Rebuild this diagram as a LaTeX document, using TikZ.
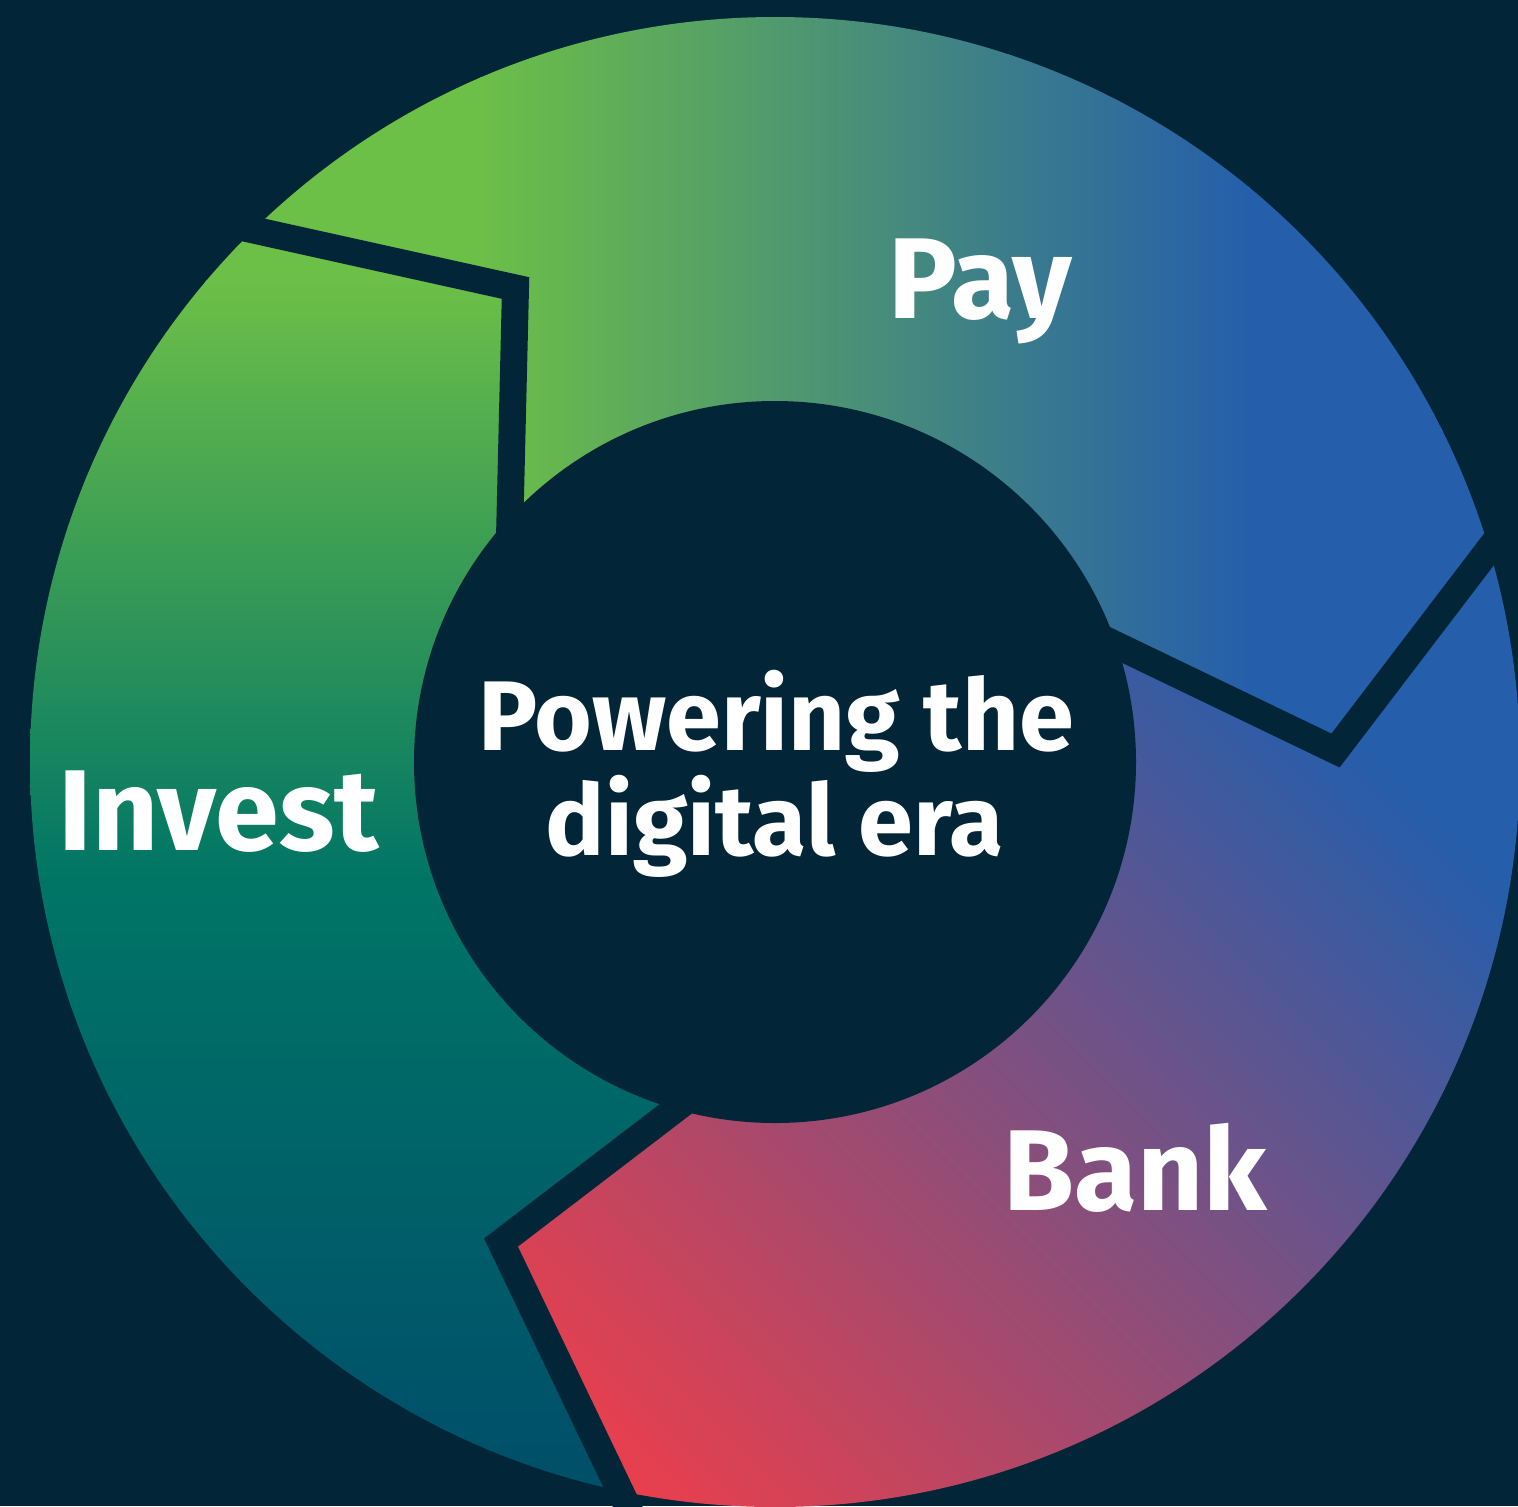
\documentclass[tikz,border=0pt]{standalone}
\usepackage{fontspec}
\setmainfont{Fira Sans}
\definecolor{bg}{HTML}{022637}
\definecolor{grn}{HTML}{6CBF47}
\definecolor{blu}{HTML}{255EAB}
\definecolor{tealm}{HTML}{007566}
\definecolor{teald}{HTML}{00506A}
\definecolor{redc}{HTML}{EF3E4A}
\definecolor{purp}{HTML}{8A5888}
\tikzset{
  gapline/.style={draw=bg, line width=13.5pt, line join=miter, miter limit=10},
  lbl/.style={text=white, inner sep=0pt, font=\fontsize{57.5}{60}\selectfont\bfseries},
  ctrtext/.style={text=white, inner sep=0pt, font=\fontsize{49.5}{52.5}\selectfont\bfseries},
}
\begin{document}
\begin{tikzpicture}[x=0.5pt,y=-0.5pt]
\useasboundingbox (0,0) rectangle (1518,1506);
\fill[bg] (0,0) rectangle (1518,1506);
\coordinate (C) at (775,762);
% gap 1 (upper left)
\coordinate (g1oe) at (100,196);
\coordinate (g1k) at (515.5,288);
\coordinate (g1ie) at (508,600);
% gap 2 (right)
\coordinate (g2ie) at (1060,618);
\coordinate (g2k) at (1335.5,750.5);
\coordinate (g2oe) at (1580,430);
% gap 3 (lower left)
\coordinate (g3ie) at (720,1075);
\coordinate (g3k) at (501,1242.5);
\coordinate (g3oe) at (680,1616);
% Pay segment
\begin{scope}
  \clip (C) circle [radius=372.5pt];
  \clip (C) -- (g1ie) -- (g1k) -- (g1oe) -- (-50,-50) -- (1700,-50) -- (1700,300) -- (g2oe) -- (g2k) -- (g2ie) -- cycle;
  \fill[grn] (-10,-10) rectangle (482,1000);
  \shade[left color=grn, right color=blu] (480,-10) rectangle (1250,1000);
  \fill[blu] (1248,-10) rectangle (1600,1000);
\end{scope}
% Invest segment
\begin{scope}
  \clip (C) circle [radius=372.5pt];
  \clip (C) -- (g3ie) -- (g3k) -- (g3oe) -- (680,1700) -- (-100,1700) -- (-100,-50) -- (g1oe) -- (g1k) -- (g1ie) -- cycle;
  \fill[grn] (-10,-10) rectangle (800,282);
  \shade[top color=grn, bottom color=tealm] (-10,280) rectangle (800,880);
  \shade[top color=tealm, bottom color=teald] (-10,880) rectangle (800,1450);
  \fill[teald] (-10,1448) rectangle (800,1600);
\end{scope}
% Bank segment
\begin{scope}
  \clip (C) circle [radius=372.5pt];
  \clip (C) -- (g2ie) -- (g2k) -- (g2oe) -- (1700,300) -- (1700,1700) -- (680,1700) -- (g3oe) -- (g3k) -- (g3ie) -- cycle;
  \begin{scope}[transform canvas={rotate around={45:(1000,1140)}}]
    \fill[redc] (-600,-700) rectangle (465,2800);
    \shade[left color=redc, middle color=purp, right color=blu] (463,-700) rectangle (1537,2800);
    \fill[blu] (1535,-700) rectangle (2800,2800);
  \end{scope}
\end{scope}
% gaps
\draw[gapline] (g1oe) -- (g1k) -- (g1ie);
\draw[gapline] (g2ie) -- (g2k) -- (g2oe);
\draw[gapline] (g3ie) -- (g3k) -- (g3oe);
% inner disk
\fill[bg] (C) circle [radius=180.5pt];
% texts
\node[lbl, anchor=base west] (invest) at (58,850) {Invest};
\node[lbl, anchor=base west] (pay) at (888,318) {Pay};
\node[lbl, anchor=base west] (bank) at (1003,1210) {Bank};
\node[ctrtext, anchor=base] (line1) at (776,750) {Powering the};
\node[ctrtext, anchor=base] (line2) at (775,855) {digital era};
\end{tikzpicture}
\end{document}
